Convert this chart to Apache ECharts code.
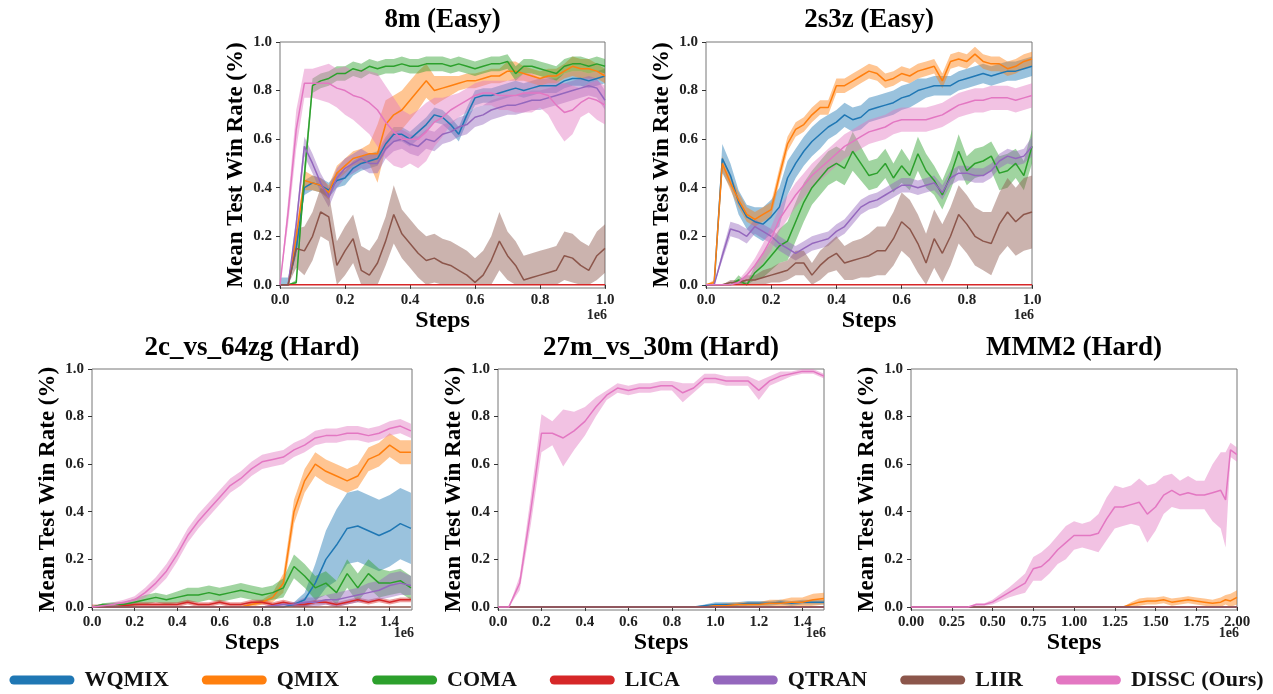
<!DOCTYPE html>
<html>
<head>
<meta charset="utf-8">
<script src="https://cdn.jsdelivr.net/npm/echarts@6/dist/echarts.min.js"></script>
<style>
  html, body { margin: 0; background: #fff; }
  #chart { width: 1273px; height: 694px; }
</style>
</head>
<body>
<div id="chart"></div>
<script>
// method names and colours
const names = ['WQMIX', 'QMIX', 'COMA', 'LICA', 'QTRAN', 'LIIR', 'DISSC (Ours)'];
const colors = ['#1f77b4', '#ff7f0e', '#2ca02c', '#d62728', '#9467bd', '#8c564b', '#e377c2'];

// x positions (unit: 1e6 steps)
const stepsTop = [0, 0.025, 0.05, 0.075, 0.1, 0.125, 0.15, 0.175, 0.2, 0.225, 0.25, 0.275, 0.3, 0.325, 0.35, 0.375, 0.4, 0.425, 0.45, 0.475, 0.5, 0.525, 0.55, 0.575, 0.6, 0.625, 0.65, 0.675, 0.7, 0.725, 0.75, 0.775, 0.8, 0.825, 0.85, 0.875, 0.9, 0.925, 0.95, 0.975, 1.0];
const stepsHard = [0, 0.05, 0.1, 0.15, 0.2, 0.25, 0.3, 0.35, 0.4, 0.45, 0.5, 0.55, 0.6, 0.65, 0.7, 0.75, 0.8, 0.85, 0.9, 0.95, 1.0, 1.05, 1.1, 1.15, 1.2, 1.25, 1.3, 1.35, 1.4, 1.45, 1.5];
const stepsMMM2 = [0, 0.05, 0.1, 0.15, 0.2, 0.25, 0.3, 0.35, 0.4, 0.45, 0.5, 0.55, 0.6, 0.65, 0.7, 0.75, 0.8, 0.85, 0.9, 0.95, 1.0, 1.05, 1.1, 1.15, 1.2, 1.25, 1.3, 1.35, 1.4, 1.45, 1.5, 1.55, 1.6, 1.65, 1.7, 1.75, 1.8, 1.85, 1.9, 1.93, 1.96, 2.0];
const flatTop = [0, 1.0];
const flatHard = [0, 1.5];
const flatMMM2 = [0, 2.0];
const flatZero = [0, 0];

// tick labels
const yTicks = [0, 0.2, 0.4, 0.6, 0.8, 1.0];
const xTicksTop = [0, 0.2, 0.4, 0.6, 0.8, 1.0];
const xTicksHard = [0, 0.2, 0.4, 0.6, 0.8, 1.0, 1.2, 1.4];
const xTicksMMM2 = [0, 0.25, 0.5, 0.75, 1.0, 1.25, 1.5, 1.75, 2.0];

// ---- 8m (Easy) : mean win rate and band half-width
const wq8m = [0, 0, 0.15, 0.40, 0.42, 0.41, 0.39, 0.43, 0.44, 0.48, 0.50, 0.51, 0.52, 0.58, 0.62, 0.62, 0.60, 0.63, 0.66, 0.70, 0.69, 0.66, 0.62, 0.70, 0.77, 0.78, 0.78, 0.79, 0.80, 0.81, 0.80, 0.81, 0.82, 0.82, 0.82, 0.84, 0.85, 0.85, 0.84, 0.85, 0.86];
const wq8mS = 0.03;
const qm8m = [0, 0, 0.2, 0.43, 0.42, 0.41, 0.38, 0.46, 0.49, 0.52, 0.53, 0.54, 0.54, 0.66, 0.70, 0.72, 0.76, 0.80, 0.84, 0.80, 0.81, 0.82, 0.83, 0.84, 0.84, 0.85, 0.86, 0.86, 0.88, 0.88, 0.87, 0.86, 0.85, 0.86, 0.86, 0.88, 0.90, 0.89, 0.89, 0.88, 0.86];
const qm8mS = [0, 0, 0.03, 0.04, 0.03, 0.03, 0.03, 0.03, 0.03, 0.03, 0.03, 0.04, 0.12, 0.10, 0.08, 0.08, 0.08, 0.08, 0.07, 0.06, 0.05, 0.04, 0.03, 0.03, 0.03, 0.03, 0.03, 0.03, 0.04, 0.04, 0.03, 0.03, 0.03, 0.03, 0.03, 0.03, 0.04, 0.04, 0.04, 0.03, 0.03];
const co8m = [0, 0, 0.01, 0.45, 0.82, 0.84, 0.85, 0.87, 0.87, 0.89, 0.88, 0.90, 0.89, 0.90, 0.90, 0.91, 0.90, 0.90, 0.91, 0.91, 0.91, 0.90, 0.91, 0.90, 0.89, 0.90, 0.91, 0.91, 0.92, 0.87, 0.90, 0.90, 0.89, 0.88, 0.87, 0.90, 0.91, 0.91, 0.90, 0.91, 0.90];
const co8mS = [0, 0, 0.01, 0.05, 0.03, 0.03, 0.03, 0.03, 0.03, 0.03, 0.03, 0.03, 0.03, 0.03, 0.03, 0.03, 0.03, 0.03, 0.03, 0.03, 0.03, 0.03, 0.03, 0.03, 0.03, 0.03, 0.03, 0.03, 0.03, 0.03, 0.03, 0.03, 0.03, 0.03, 0.03, 0.03, 0.03, 0.03, 0.03, 0.03, 0.03];
const qt8m = [0, 0, 0.25, 0.57, 0.50, 0.42, 0.36, 0.44, 0.48, 0.50, 0.52, 0.50, 0.50, 0.56, 0.59, 0.60, 0.58, 0.57, 0.60, 0.59, 0.62, 0.63, 0.65, 0.66, 0.69, 0.70, 0.72, 0.73, 0.74, 0.74, 0.75, 0.76, 0.76, 0.77, 0.78, 0.79, 0.80, 0.81, 0.82, 0.81, 0.76];
const qt8mS = [0, 0, 0.03, 0.04, 0.04, 0.04, 0.04, 0.04, 0.04, 0.04, 0.04, 0.04, 0.04, 0.04, 0.04, 0.04, 0.04, 0.04, 0.04, 0.04, 0.04, 0.04, 0.04, 0.04, 0.04, 0.04, 0.04, 0.04, 0.04, 0.04, 0.04, 0.04, 0.04, 0.04, 0.04, 0.04, 0.04, 0.04, 0.04, 0.04, 0.04];
const lr8m = [0, 0, 0.15, 0.14, 0.20, 0.30, 0.28, 0.08, 0.14, 0.19, 0.06, 0.04, 0.09, 0.18, 0.29, 0.21, 0.17, 0.13, 0.10, 0.11, 0.09, 0.08, 0.06, 0.04, 0.01, 0.04, 0.10, 0.18, 0.12, 0.08, 0.02, 0.03, 0.04, 0.05, 0.06, 0.12, 0.11, 0.08, 0.06, 0.12, 0.15];
const lr8mS = [0, 0, 0.08, 0.1, 0.1, 0.1, 0.1, 0.1, 0.1, 0.1, 0.1, 0.1, 0.1, 0.1, 0.12, 0.1, 0.1, 0.1, 0.1, 0.1, 0.1, 0.1, 0.1, 0.1, 0.1, 0.1, 0.1, 0.12, 0.1, 0.1, 0.1, 0.1, 0.1, 0.1, 0.1, 0.1, 0.1, 0.1, 0.1, 0.1, 0.1];
const ds8m = [0, 0.30, 0.64, 0.83, 0.83, 0.83, 0.83, 0.81, 0.80, 0.78, 0.77, 0.75, 0.72, 0.67, 0.63, 0.60, 0.60, 0.60, 0.63, 0.67, 0.69, 0.72, 0.74, 0.76, 0.78, 0.79, 0.79, 0.78, 0.78, 0.78, 0.79, 0.79, 0.79, 0.78, 0.74, 0.71, 0.72, 0.75, 0.77, 0.76, 0.74];
const ds8mS = [0, 0.05, 0.08, 0.06, 0.06, 0.07, 0.08, 0.08, 0.10, 0.10, 0.12, 0.13, 0.15, 0.15, 0.14, 0.12, 0.10, 0.12, 0.12, 0.10, 0.08, 0.06, 0.05, 0.05, 0.05, 0.05, 0.05, 0.06, 0.06, 0.07, 0.08, 0.08, 0.06, 0.08, 0.10, 0.12, 0.10, 0.06, 0.06, 0.08, 0.08];

// ---- 2s3z (Easy)
const wq2s = [0, 0, 0.52, 0.45, 0.34, 0.28, 0.26, 0.25, 0.28, 0.32, 0.44, 0.50, 0.55, 0.59, 0.62, 0.65, 0.67, 0.70, 0.68, 0.69, 0.72, 0.73, 0.74, 0.75, 0.77, 0.78, 0.80, 0.81, 0.82, 0.82, 0.82, 0.84, 0.85, 0.86, 0.87, 0.86, 0.87, 0.88, 0.88, 0.89, 0.90];
const wq2sS = [0, 0, 0.06, 0.05, 0.05, 0.05, 0.06, 0.07, 0.07, 0.08, 0.07, 0.06, 0.06, 0.06, 0.06, 0.05, 0.05, 0.05, 0.05, 0.05, 0.05, 0.05, 0.05, 0.05, 0.05, 0.05, 0.05, 0.04, 0.04, 0.04, 0.04, 0.04, 0.04, 0.04, 0.04, 0.04, 0.04, 0.04, 0.04, 0.04, 0.04];
const qm2s = [0, 0.01, 0.50, 0.42, 0.35, 0.29, 0.27, 0.29, 0.31, 0.45, 0.58, 0.64, 0.66, 0.70, 0.73, 0.73, 0.82, 0.82, 0.84, 0.86, 0.88, 0.87, 0.84, 0.85, 0.87, 0.86, 0.88, 0.89, 0.90, 0.84, 0.92, 0.93, 0.92, 0.95, 0.92, 0.91, 0.91, 0.89, 0.90, 0.92, 0.93];
const qm2sS = [0, 0.01, 0.03, 0.03, 0.03, 0.03, 0.03, 0.03, 0.03, 0.03, 0.03, 0.03, 0.03, 0.03, 0.03, 0.03, 0.03, 0.03, 0.03, 0.03, 0.03, 0.03, 0.03, 0.03, 0.03, 0.03, 0.03, 0.03, 0.03, 0.03, 0.03, 0.03, 0.03, 0.03, 0.03, 0.03, 0.03, 0.03, 0.03, 0.03, 0.03];
const co2s = [0, 0, 0, 0, 0.02, 0, 0.05, 0.08, 0.12, 0.16, 0.18, 0.26, 0.34, 0.40, 0.44, 0.48, 0.50, 0.48, 0.55, 0.50, 0.45, 0.46, 0.50, 0.44, 0.49, 0.45, 0.54, 0.47, 0.43, 0.37, 0.45, 0.55, 0.47, 0.50, 0.51, 0.53, 0.46, 0.47, 0.50, 0.45, 0.57];
const co2sS = [0, 0, 0, 0, 0.02, 0.01, 0.03, 0.05, 0.06, 0.07, 0.08, 0.08, 0.08, 0.07, 0.07, 0.07, 0.07, 0.07, 0.08, 0.07, 0.06, 0.06, 0.06, 0.06, 0.07, 0.06, 0.07, 0.07, 0.06, 0.06, 0.06, 0.07, 0.06, 0.06, 0.06, 0.06, 0.07, 0.07, 0.06, 0.06, 0.07];
const qt2s = [0, 0, 0.12, 0.23, 0.22, 0.20, 0.24, 0.22, 0.20, 0.17, 0.15, 0.13, 0.15, 0.17, 0.18, 0.19, 0.22, 0.24, 0.28, 0.32, 0.34, 0.35, 0.37, 0.39, 0.41, 0.41, 0.40, 0.41, 0.42, 0.38, 0.44, 0.46, 0.46, 0.45, 0.45, 0.47, 0.51, 0.53, 0.52, 0.53, 0.57];
const qt2sS = [0, 0, 0.02, 0.03, 0.03, 0.03, 0.03, 0.03, 0.03, 0.03, 0.03, 0.03, 0.03, 0.03, 0.03, 0.03, 0.03, 0.03, 0.03, 0.03, 0.03, 0.03, 0.03, 0.03, 0.03, 0.03, 0.03, 0.03, 0.03, 0.03, 0.03, 0.03, 0.03, 0.03, 0.03, 0.03, 0.03, 0.03, 0.03, 0.03, 0.04];
const lr2s = [0, 0, 0, 0.01, 0.01, 0.02, 0.02, 0.03, 0.04, 0.05, 0.06, 0.09, 0.09, 0.04, 0.08, 0.11, 0.13, 0.09, 0.10, 0.11, 0.12, 0.14, 0.14, 0.19, 0.26, 0.23, 0.17, 0.09, 0.19, 0.13, 0.20, 0.29, 0.25, 0.20, 0.18, 0.17, 0.25, 0.30, 0.26, 0.29, 0.30];
const lr2sS = [0, 0, 0, 0.01, 0.01, 0.02, 0.02, 0.03, 0.03, 0.04, 0.04, 0.05, 0.05, 0.05, 0.06, 0.06, 0.07, 0.07, 0.08, 0.08, 0.09, 0.10, 0.10, 0.11, 0.12, 0.12, 0.12, 0.12, 0.12, 0.12, 0.12, 0.12, 0.12, 0.12, 0.12, 0.13, 0.13, 0.14, 0.14, 0.15, 0.15];
const ds2s = [0, 0, 0, 0, 0.01, 0.04, 0.08, 0.13, 0.19, 0.27, 0.32, 0.37, 0.41, 0.45, 0.48, 0.51, 0.54, 0.57, 0.59, 0.61, 0.63, 0.64, 0.65, 0.67, 0.68, 0.68, 0.68, 0.68, 0.69, 0.70, 0.72, 0.74, 0.75, 0.76, 0.76, 0.77, 0.77, 0.77, 0.76, 0.77, 0.78];
const ds2sS = [0, 0, 0, 0, 0.01, 0.02, 0.03, 0.04, 0.05, 0.05, 0.05, 0.05, 0.05, 0.05, 0.05, 0.05, 0.05, 0.05, 0.05, 0.05, 0.05, 0.05, 0.05, 0.05, 0.05, 0.05, 0.05, 0.05, 0.05, 0.05, 0.05, 0.05, 0.05, 0.05, 0.05, 0.05, 0.05, 0.05, 0.05, 0.05, 0.05];

// ---- 2c_vs_64zg (Hard)
const wq2c = [0, 0, 0, 0, 0, 0, 0, 0, 0, 0, 0, 0, 0, 0, 0, 0, 0, 0, 0, 0.01, 0.03, 0.10, 0.20, 0.26, 0.33, 0.34, 0.32, 0.30, 0.32, 0.35, 0.33];
const wq2cS = [0, 0, 0, 0, 0, 0, 0, 0, 0, 0, 0, 0, 0, 0, 0, 0, 0, 0, 0, 0.01, 0.03, 0.08, 0.12, 0.15, 0.15, 0.15, 0.15, 0.15, 0.15, 0.15, 0.15];
const qm2c = [0, 0, 0, 0, 0, 0, 0, 0, 0, 0, 0, 0, 0, 0, 0, 0.01, 0.02, 0.04, 0.10, 0.40, 0.53, 0.60, 0.57, 0.55, 0.53, 0.55, 0.62, 0.64, 0.68, 0.65, 0.65];
const qm2cS = [0, 0, 0, 0, 0, 0, 0, 0, 0, 0, 0, 0, 0, 0, 0, 0.01, 0.01, 0.02, 0.04, 0.05, 0.05, 0.05, 0.05, 0.05, 0.05, 0.05, 0.05, 0.05, 0.05, 0.05, 0.05];
const co2c = [0, 0.01, 0.01, 0.01, 0.02, 0.03, 0.04, 0.03, 0.04, 0.05, 0.05, 0.06, 0.05, 0.06, 0.07, 0.06, 0.05, 0.06, 0.08, 0.17, 0.13, 0.08, 0.10, 0.06, 0.14, 0.08, 0.14, 0.10, 0.10, 0.11, 0.08];
const co2cS = [0, 0.005, 0.01, 0.01, 0.015, 0.02, 0.02, 0.02, 0.025, 0.03, 0.03, 0.03, 0.03, 0.03, 0.03, 0.03, 0.03, 0.03, 0.04, 0.05, 0.05, 0.05, 0.05, 0.05, 0.06, 0.06, 0.06, 0.06, 0.05, 0.05, 0.05];
const lc2c = [0, 0, 0, 0.005, 0.01, 0.01, 0.01, 0.01, 0.01, 0.02, 0.01, 0.01, 0.02, 0.01, 0.01, 0.02, 0.02, 0.01, 0.02, 0.01, 0.01, 0.02, 0.02, 0.01, 0.02, 0.03, 0.02, 0.03, 0.02, 0.03, 0.03];
const lc2cS = 0.01;
const qt2c = [0, 0, 0, 0, 0, 0, 0, 0, 0, 0, 0, 0, 0, 0, 0, 0, 0, 0.005, 0.01, 0.01, 0.02, 0.02, 0.03, 0.03, 0.04, 0.05, 0.06, 0.07, 0.09, 0.10, 0.09];
const qt2cS = [0, 0, 0, 0, 0, 0, 0, 0, 0, 0, 0, 0, 0, 0, 0, 0, 0, 0.005, 0.01, 0.01, 0.02, 0.02, 0.02, 0.03, 0.03, 0.03, 0.04, 0.04, 0.05, 0.05, 0.04];
const ds2c = [0, 0.005, 0.01, 0.02, 0.03, 0.06, 0.10, 0.15, 0.22, 0.30, 0.36, 0.41, 0.46, 0.51, 0.54, 0.58, 0.61, 0.62, 0.63, 0.66, 0.68, 0.71, 0.72, 0.72, 0.73, 0.73, 0.72, 0.73, 0.75, 0.76, 0.74];
const ds2cS = [0, 0.005, 0.01, 0.01, 0.015, 0.02, 0.025, 0.03, 0.03, 0.03, 0.03, 0.03, 0.03, 0.03, 0.03, 0.03, 0.03, 0.03, 0.03, 0.03, 0.03, 0.03, 0.03, 0.03, 0.03, 0.03, 0.03, 0.03, 0.03, 0.03, 0.03];

// ---- 27m_vs_30m (Hard)
const wq27 = [0, 0, 0, 0, 0, 0, 0, 0, 0, 0, 0, 0, 0, 0, 0, 0, 0, 0, 0, 0.005, 0.01, 0.01, 0.01, 0.015, 0.015, 0.015, 0.02, 0.015, 0.02, 0.02, 0.02];
const wq27S = [0, 0, 0, 0, 0, 0, 0, 0, 0, 0, 0, 0, 0, 0, 0, 0, 0, 0, 0, 0.005, 0.01, 0.01, 0.01, 0.01, 0.01, 0.01, 0.01, 0.01, 0.01, 0.01, 0.01];
const qm27 = [0, 0, 0, 0, 0, 0, 0, 0, 0, 0, 0, 0, 0, 0, 0, 0, 0, 0, 0, 0, 0.005, 0.005, 0.01, 0.01, 0.01, 0.015, 0.015, 0.02, 0.02, 0.03, 0.035];
const qm27S = [0, 0, 0, 0, 0, 0, 0, 0, 0, 0, 0, 0, 0, 0, 0, 0, 0, 0, 0, 0, 0.005, 0.01, 0.01, 0.01, 0.01, 0.015, 0.015, 0.02, 0.02, 0.025, 0.025];
const ds27 = [0, 0, 0.10, 0.40, 0.73, 0.73, 0.71, 0.74, 0.78, 0.84, 0.89, 0.92, 0.91, 0.92, 0.92, 0.93, 0.93, 0.90, 0.92, 0.96, 0.96, 0.95, 0.95, 0.95, 0.91, 0.95, 0.97, 0.98, 0.99, 0.99, 0.97];
const ds27S = [0, 0, 0.03, 0.06, 0.08, 0.05, 0.12, 0.08, 0.06, 0.04, 0.02, 0.02, 0.02, 0.02, 0.02, 0.02, 0.02, 0.04, 0.02, 0.02, 0.02, 0.02, 0.02, 0.02, 0.04, 0.02, 0.02, 0.01, 0.01, 0.01, 0.01];

// ---- MMM2 (Hard)
const qmMM = [0, 0, 0, 0, 0, 0, 0, 0, 0, 0, 0, 0, 0, 0, 0, 0, 0, 0, 0, 0, 0, 0, 0, 0, 0, 0, 0, 0.01, 0.02, 0.025, 0.025, 0.03, 0.02, 0.025, 0.03, 0.025, 0.02, 0.015, 0.02, 0.03, 0.025, 0.04];
const qmMMS = [0, 0, 0, 0, 0, 0, 0, 0, 0, 0, 0, 0, 0, 0, 0, 0, 0, 0, 0, 0, 0, 0, 0, 0, 0, 0, 0, 0.01, 0.015, 0.015, 0.015, 0.015, 0.015, 0.015, 0.015, 0.015, 0.015, 0.015, 0.02, 0.02, 0.03, 0.03];
const dsMM = [0, 0, 0, 0, 0, 0, 0, 0, 0.01, 0.01, 0.02, 0.04, 0.06, 0.08, 0.10, 0.16, 0.17, 0.20, 0.24, 0.27, 0.30, 0.30, 0.30, 0.31, 0.37, 0.42, 0.42, 0.43, 0.44, 0.39, 0.42, 0.47, 0.49, 0.47, 0.48, 0.47, 0.47, 0.48, 0.49, 0.45, 0.66, 0.64];
const dsMMS = [0, 0, 0, 0, 0, 0, 0, 0, 0.005, 0.005, 0.01, 0.015, 0.02, 0.03, 0.04, 0.05, 0.06, 0.06, 0.06, 0.07, 0.06, 0.05, 0.06, 0.08, 0.09, 0.09, 0.08, 0.08, 0.10, 0.12, 0.10, 0.08, 0.07, 0.06, 0.07, 0.06, 0.06, 0.12, 0.16, 0.20, 0.03, 0.03];

// one run per method, in the order of names: [x, mean, half-width]
const panels = [
  { title: '8m (Easy)', grid: { left: 280, top: 42, width: 325, height: 246 }, xMax: 1.0, xTicks: xTicksTop, digits: 1, titleTop: 7, expo: 27,
    runs: [[stepsTop, wq8m, wq8mS], [stepsTop, qm8m, qm8mS], [stepsTop, co8m, co8mS], [flatTop, flatZero, 0], [stepsTop, qt8m, qt8mS], [stepsTop, lr8m, lr8mS], [stepsTop, ds8m, ds8mS]] },
  { title: '2s3z (Easy)', grid: { left: 706, top: 42, width: 326, height: 246 }, xMax: 1.0, xTicks: xTicksTop, digits: 1, titleTop: 7, expo: 27,
    runs: [[stepsTop, wq2s, wq2sS], [stepsTop, qm2s, qm2sS], [stepsTop, co2s, co2sS], [flatTop, flatZero, 0], [stepsTop, qt2s, qt2sS], [stepsTop, lr2s, lr2sS], [stepsTop, ds2s, ds2sS]] },
  { title: '2c_vs_64zg (Hard)', grid: { left: 92, top: 369, width: 320, height: 241 }, xMax: 1.505, xTicks: xTicksHard, digits: 1, titleTop: 335, expo: 23,
    runs: [[stepsHard, wq2c, wq2cS], [stepsHard, qm2c, qm2cS], [stepsHard, co2c, co2cS], [stepsHard, lc2c, lc2cS], [stepsHard, qt2c, qt2cS], [flatHard, flatZero, 0], [stepsHard, ds2c, ds2cS]] },
  { title: '27m_vs_30m (Hard)', grid: { left: 498, top: 369, width: 326, height: 241 }, xMax: 1.5, xTicks: xTicksHard, digits: 1, titleTop: 335, expo: 23,
    runs: [[stepsHard, wq27, wq27S], [stepsHard, qm27, qm27S], [flatHard, flatZero, 0], [flatHard, flatZero, 0], [flatHard, flatZero, 0], [flatHard, flatZero, 0], [stepsHard, ds27, ds27S]] },
  { title: 'MMM2 (Hard)', grid: { left: 911, top: 369, width: 326, height: 241 }, xMax: 2.0, xTicks: xTicksMMM2, digits: 2, titleTop: 335, expo: 23,
    runs: [[flatMMM2, flatZero, 0], [stepsMMM2, qmMM, qmMMS], [flatMMM2, flatZero, 0], [flatMMM2, flatZero, 0], [flatMMM2, flatZero, 0], [flatMMM2, flatZero, 0], [stepsMMM2, dsMM, dsMMS]] }
];

const serif = 'Liberation Serif';

function bandSeries(gi, name, color, xs, m, s) {
  const lo = [], hi = [];
  for (let i = 0; i < xs.length; i++) {
    const w = Array.isArray(s) ? s[i] : s;
    lo.push(Math.max(0, m[i] - w));
    hi.push(Math.min(1, m[i] + w));
  }
  return {
    type: 'custom', name: name, xAxisIndex: gi, yAxisIndex: gi, silent: true, clip: true,
    itemStyle: { color: color },
    data: xs.map((x, i) => [x, lo[i], hi[i]]),
    encode: { x: 0, y: [1, 2] },
    renderItem: function (params, api) {
      if (params.dataIndex !== 0) return null;
      const pts = [];
      for (let i = 0; i < xs.length; i++) pts.push(api.coord([xs[i], hi[i]]));
      for (let i = xs.length - 1; i >= 0; i--) pts.push(api.coord([xs[i], lo[i]]));
      return { type: 'polygon', shape: { points: pts }, style: { fill: color, opacity: 0.45 } };
    }
  };
}

const grid = [], xAxis = [], yAxis = [], series = [], title = [], graphic = [];
panels.forEach(function (p, gi) {
  grid.push(Object.assign({ show: true, borderColor: '#777', borderWidth: 1, backgroundColor: 'transparent' }, p.grid));
  title.push({
    text: p.title, left: p.grid.left + p.grid.width / 2, top: p.titleTop, textAlign: 'center', padding: 0,
    textStyle: { fontFamily: serif, fontWeight: 'bold', fontSize: 27, color: '#000' }
  });
  xAxis.push({
    type: 'value', gridIndex: gi, min: 0, max: p.xMax,
    axisLine: { show: false }, splitLine: { show: false },
    axisTick: { show: true, length: 4, customValues: p.xTicks, lineStyle: { color: '#333' } },
    axisLabel: { customValues: p.xTicks, showMinLabel: true, showMaxLabel: true, formatter: v => v.toFixed(p.digits),
      margin: 5, fontFamily: serif, fontWeight: 'bold', fontSize: 15, color: '#222' },
    name: 'Steps', nameLocation: 'middle', nameGap: gi < 2 ? 9 : 12,
    nameTextStyle: { fontFamily: serif, fontWeight: 'bold', fontSize: 24, color: '#000' }
  });
  yAxis.push({
    type: 'value', gridIndex: gi, min: -0.013, max: 1.0,
    axisLine: { show: false }, splitLine: { show: false },
    axisTick: { show: true, length: 4, customValues: yTicks, lineStyle: { color: '#333' } },
    axisLabel: { customValues: yTicks, showMinLabel: true, showMaxLabel: true, formatter: v => v.toFixed(1),
      margin: 8, fontFamily: serif, fontWeight: 'bold', fontSize: 15, color: '#222' },
    name: 'Mean Test Win Rate (%)', nameLocation: 'middle', nameGap: 32,
    nameTextStyle: { fontFamily: serif, fontWeight: 'bold', fontSize: 23, color: '#000' }
  });
  graphic.push({
    type: 'text', x: p.grid.left + p.grid.width + 2, y: p.grid.top + p.grid.height + p.expo,
    style: { text: '1e6', align: 'right', verticalAlign: 'middle', font: 'bold 14px "Liberation Serif"', fill: '#222' }
  });
  p.runs.forEach(function (r, k) {
    const [xs, m, s] = r;
    series.push({
      type: 'line', name: names[k], xAxisIndex: gi, yAxisIndex: gi, showSymbol: false, clip: true, silent: true,
      data: xs.map((x, i) => [x, m[i]]),
      itemStyle: { color: colors[k] },
      lineStyle: { color: colors[k], width: 1.5 }
    });
    const hasBand = Array.isArray(s) ? s.some(v => v > 0) : s > 0;
    if (hasBand) series.push(bandSeries(gi, names[k], colors[k], xs, m, s));
  });
});

const chart = echarts.init(document.getElementById('chart'), null, { renderer: 'canvas' });
chart.setOption({
  animation: false,
  backgroundColor: '#fff',
  title: title,
  grid: grid,
  xAxis: xAxis,
  yAxis: yAxis,
  graphic: graphic,
  legend: {
    data: names, left: 'center', top: 664, selectedMode: false,
    itemWidth: 65, itemHeight: 9, itemGap: 33,
    icon: 'path://M4.5,0H60.5A4.5,4.5,0,0,1,60.5,9H4.5A4.5,4.5,0,0,1,4.5,0Z',
    textStyle: { fontFamily: serif, fontWeight: 'bold', fontSize: 22, color: '#111', padding: [0, 0, 0, 5] }
  },
  series: series
});
</script>
</body>
</html>
